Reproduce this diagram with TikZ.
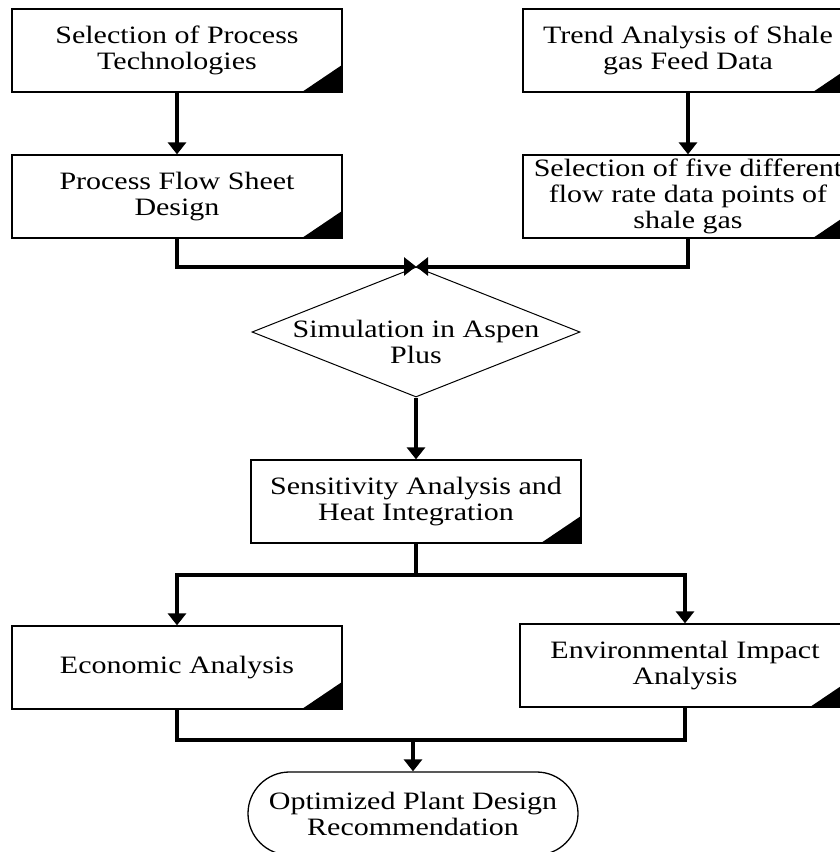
\documentclass[tikz,border=0pt]{standalone}
\usepackage{fontspec}
\setmainfont{Liberation Serif}[FakeStretch=1.2]
\usetikzlibrary{arrows.meta,shapes.geometric,shapes.misc}
\tikzset{
  txt/.style={font=\fontsize{25pt}{26pt}\selectfont, align=center, inner sep=0pt},
  procbox/.style={txt, draw, line width=1.3pt, minimum width=330pt, minimum height=83pt,
    path picture={\fill (path picture bounding box.south east) -- ++(-40pt,0pt) -- ++(40pt,27pt) -- cycle;}},
  decbox/.style={draw, shape=diamond, line width=1pt, minimum width=328pt, minimum height=130pt, inner sep=0pt},
  termbox/.style={txt, draw, shape=rounded rectangle, line width=1.3pt, minimum width=330pt, minimum height=83pt},
  conn/.style={line width=4pt, -{Triangle[length=12pt,width=18pt]}},
  wire/.style={line width=4pt}
}
\begin{document}
\begin{tikzpicture}[x=1pt,y=-1pt]
\fill[white] (0,0) rectangle (840,852);
\clip (0,0) rectangle (840,852);
\node[procbox] (b1) at (177,50.5) {Selection of Process\\Technologies};
\node[procbox] (b2) at (177,196.5) {Process Flow Sheet\\Design};
\node[procbox] (b3) at (688,50.5) {Trend Analysis of Shale\\gas Feed Data};
\node[procbox] (b4) at (688,196.5) {Selection of five different\\flow rate data points of\\shale gas};
\node[decbox] (sim) at (416,332) {};
\node[txt] (simtext) at (416,342) {Simulation in Aspen\\Plus};
\node[procbox] (b5) at (416,501.5) {Sensitivity Analysis and\\Heat Integration};
\node[procbox] (b6) at (177,667.5) {Economic Analysis};
\node[procbox] (b7) at (685,665.5) {Environmental Impact\\Analysis};
\node[termbox] (opt) at (413,813.5) {Optimized Plant Design\\Recommendation};
\coordinate (split) at (416,575);
\coordinate (merge) at (413,740);
\draw[conn] (b1) -- (b2);
\draw[conn] (b3) -- (b4);
\draw[conn] (b2.south) |- (sim.north);
\draw[conn] (b4.south) |- (sim.north);
\draw[conn] (sim.south) -- (b5.north);
\draw[wire] (b5.south) -- (split);
\draw[conn] (split) -| (b6.north);
\draw[conn] (split) -| (b7.north);
\draw[wire] (b6.south) |- (merge);
\draw[wire] (b7.south) |- (merge);
\draw[conn] (merge) -- (opt.north);
\end{tikzpicture}
\end{document}
